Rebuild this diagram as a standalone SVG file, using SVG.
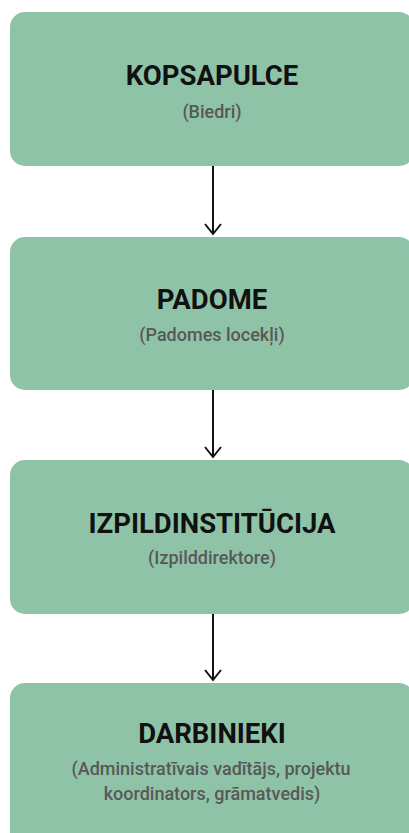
<svg xmlns="http://www.w3.org/2000/svg" width="409" height="833" viewBox="0 0 409 833">
<defs>
<style>
.box{fill:#8fc3a8;}
.t{font-family:Roboto,"Liberation Sans",sans-serif;font-weight:700;font-size:27.5px;fill:#111;text-anchor:middle;}
.s{font-family:Roboto,"Liberation Sans",sans-serif;font-weight:500;font-size:18px;fill:#585858;text-anchor:middle;}
.c{stroke:#111;stroke-width:2;fill:none;}
</style>
</defs>
<rect width="409" height="833" fill="#ffffff"/>
<g id="kopsapulce">
<rect class="box" x="10" y="12" width="404" height="154" rx="15"/>
<text class="t" x="212" y="85">KOPSAPULCE</text>
<text class="s" x="212" y="118">(Biedri)</text>
</g>
<g id="padome">
<rect class="box" x="10" y="237" width="404" height="153" rx="15"/>
<text class="t" x="212" y="309">PADOME</text>
<text class="s" x="212" y="341">(Padomes locekļi)</text>
</g>
<g id="izpildinstitucija">
<rect class="box" x="10" y="460" width="404" height="154" rx="15"/>
<text class="t" x="212" y="533">IZPILDINSTITŪCIJA</text>
<text class="s" x="212" y="564">(Izpilddirektore)</text>
</g>
<g id="darbinieki">
<rect class="box" x="10" y="683" width="404" height="165" rx="15"/>
<text class="t" x="212" y="743">DARBINIEKI</text>
<text class="s" x="211" y="775">(Administratīvais vadītājs, projektu</text>
<text class="s" x="212" y="800">koordinators, grāmatvedis)</text>
</g>
<g id="connectors">
<path class="c" d="M213 166V234M205 224L213 234L221 224"/>
<path class="c" d="M213 390V457M205 447L213 457L221 447"/>
<path class="c" d="M213 614V680M205 670L213 680L221 670"/>
</g>
</svg>
